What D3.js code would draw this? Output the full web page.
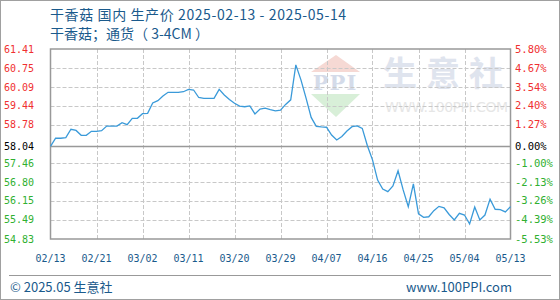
<!DOCTYPE html>
<meta charset="utf-8">
<script src="https://d3js.org/d3.v7.min.js"></script>
<style>
  body { margin: 0; background: #fff; }
  svg { display: block; }
</style>
<div id="chart"></div>
<script>
// daily price, 2025-02-13 .. 2025-05-14
var prices = [
  58.04, 58.32, 58.32, 58.34, 58.63, 58.59, 58.42, 58.42, 58.56, 58.56,
  58.58, 58.74, 58.74, 58.74, 58.86, 58.79, 59.01, 59.01, 59.17, 59.18,
  59.54, 59.62, 59.78, 59.91, 59.91, 59.91, 59.93, 60.01, 59.99, 59.73,
  59.70, 59.70, 59.70, 60.01, 59.82, 59.66, 59.53, 59.43, 59.41, 59.44,
  59.16, 59.33, 59.36, 59.31, 59.27, 59.29, 59.49, 59.65, 60.86, 60.34,
  59.71, 59.04, 58.73, 58.71, 58.70, 58.43, 58.26, 58.38, 58.57, 58.72,
  58.75, 58.66, 58.06, 57.57, 56.87, 56.56, 56.47, 56.67, 57.19, 56.53,
  55.95, 56.74, 55.70, 55.58, 55.60, 55.81, 55.96, 55.91, 55.68, 55.49,
  55.72, 55.66, 55.35, 55.94, 55.49, 55.66, 56.21, 55.86, 55.85, 55.77,
  55.95
];
var baseValue = 58.04;

var xTickLabels = ["02/13","02/21","03/02","03/11","03/20","03/29","04/07","04/16","04/25","05/04","05/13"];
var xTickIndex  = [0, 9, 18, 27, 36, 45, 54, 63, 72, 81, 90];

var yTickValues = [54.83, 55.49, 56.15, 56.80, 57.46, 58.04, 58.78, 59.44, 60.09, 60.75, 61.41];
var pctLabels   = ["-5.53%","-4.39%","-3.26%","-2.13%","-1.00%","0.00%","1.27%","2.40%","3.54%","4.67%","5.80%"];

var W = 560, H = 300;
var plot = {left: 50.5, right: 510.5, top: 49, bottom: 239};
var blue = "#1a5a8c";

var svg = d3.select("#chart").append("svg")
  .attr("width", W).attr("height", H);

// outer border
svg.append("rect")
  .attr("x", 0.5).attr("y", 0.5).attr("width", W - 1).attr("height", H - 1)
  .attr("fill", "#fff").attr("stroke", "#a0a0a0");

// titles
svg.append("text").attr("x", 50).attr("y", 20)
  .attr("fill", blue).style("font", "14px 'Noto Sans CJK SC', sans-serif")
  .attr("letter-spacing", 0.6)
  .text("干香菇 国内 生产价 2025-02-13 - 2025-05-14");
svg.append("text").attr("x", 50).attr("y", 39)
  .attr("fill", blue).style("font", "14px 'Noto Sans CJK SC', sans-serif")
  .text("干香菇；通货（ 3-4CM ）");

var x = d3.scaleLinear().domain([0, prices.length - 1]).range([plot.left, plot.right]);
var y = d3.scaleLinear().domain([54.83, 61.41]).range([plot.bottom, plot.top]);

// watermark
var wm = svg.append("g");
wm.append("path")
  .attr("d", "M311,72 L336,55 L360,72 Z").attr("fill", "#f6d9d4");
wm.append("text").attr("x", 335).attr("y", 90).attr("text-anchor", "middle")
  .attr("fill", "#d4dbe9").style("font", "bold 21px 'DejaVu Serif', serif")
  .attr("letter-spacing", 1).text("PPI");
wm.append("path")
  .attr("d", "M311,94 L360,94 L336,117 Z").attr("fill", "#d8efd8");
wm.append("text").attr("x", 383).attr("y", 86)
  .attr("fill", "#dfe4ee").style("font", "bold 34px 'Noto Sans CJK SC', sans-serif")
  .attr("letter-spacing", 9).text("生意社");
wm.append("text").attr("x", 385).attr("y", 112)
  .attr("fill", "#e6e6e6").style("font", "14px 'DejaVu Sans', sans-serif")
  .attr("textLength", 123).text("WWW.100PPI.COM");

// horizontal grid
svg.append("g").selectAll("line")
  .data(yTickValues.filter(function(d) { return d !== baseValue && d !== 54.83 && d !== 61.41; }))
  .enter().append("line")
    .attr("x1", plot.left).attr("x2", plot.right)
    .attr("y1", function(d) { return Math.round(y(d)) + 0.5; })
    .attr("y2", function(d) { return Math.round(y(d)) + 0.5; })
    .attr("stroke", "#c8c8c8").attr("stroke-dasharray", "4,2");

// vertical grid
svg.append("g").selectAll("line")
  .data(xTickIndex.slice(1, -1))
  .enter().append("line")
    .attr("x1", function(d) { return Math.round(x(d)) + 0.5; })
    .attr("x2", function(d) { return Math.round(x(d)) + 0.5; })
    .attr("y1", plot.top).attr("y2", plot.bottom)
    .attr("stroke", "#c8c8c8").attr("stroke-dasharray", "4,2");

// base line
svg.append("line")
  .attr("x1", plot.left).attr("x2", plot.right)
  .attr("y1", Math.round(y(baseValue)) + 0.5).attr("y2", Math.round(y(baseValue)) + 0.5)
  .attr("stroke", "#999").attr("stroke-width", 1.5);

// frame
svg.append("rect")
  .attr("x", plot.left).attr("y", plot.top)
  .attr("width", plot.right - plot.left).attr("height", plot.bottom - plot.top)
  .attr("fill", "none").attr("stroke", "#999").attr("stroke-width", 1.5);

// price line
var line = d3.line()
  .x(function(d, i) { return x(i); })
  .y(function(d) { return y(d); });
svg.append("path")
  .datum(prices)
  .attr("d", line)
  .attr("fill", "none").attr("stroke", "#3a9ad9").attr("stroke-width", 1.3);

function tickColor(d) {
  if (d > baseValue) return "#f03030";
  if (d < baseValue) return "#30b030";
  return "#000";
}

// left axis labels
svg.append("g").selectAll("text")
  .data(yTickValues).enter().append("text")
    .attr("x", 34).attr("y", function(d) { return y(d) + 3.5; })
    .attr("text-anchor", "end").attr("fill", tickColor)
    .style("font", "10px 'DejaVu Sans Mono', monospace")
    .text(function(d) { return d.toFixed(2); });

// right axis labels
svg.append("g").selectAll("text")
  .data(yTickValues).enter().append("text")
    .attr("x", 515).attr("y", function(d) { return y(d) + 3.5; })
    .attr("fill", tickColor)
    .style("font", "10.5px 'DejaVu Sans Mono', monospace")
    .text(function(d, i) { return pctLabels[i]; });

// x axis labels
svg.append("g").selectAll("text")
  .data(xTickIndex).enter().append("text")
    .attr("x", function(d) { return x(d); }).attr("y", 262)
    .attr("text-anchor", "middle").attr("fill", blue)
    .style("font", "10px 'DejaVu Sans Mono', monospace")
    .text(function(d, i) { return xTickLabels[i]; });

// footer
svg.append("line")
  .attr("x1", 9).attr("x2", 551).attr("y1", 275.5).attr("y2", 275.5)
  .attr("stroke", "#999");
svg.append("text").attr("x", 10).attr("y", 292)
  .attr("fill", blue).style("font", "13px 'Noto Sans CJK SC', sans-serif")
  .text("© 2025.05 生意社");
svg.append("text").attr("x", 512).attr("y", 292).attr("text-anchor", "end")
  .attr("fill", blue).style("font", "13px 'Noto Sans CJK SC', sans-serif")
  .text("www.100PPI.com");
</script>
